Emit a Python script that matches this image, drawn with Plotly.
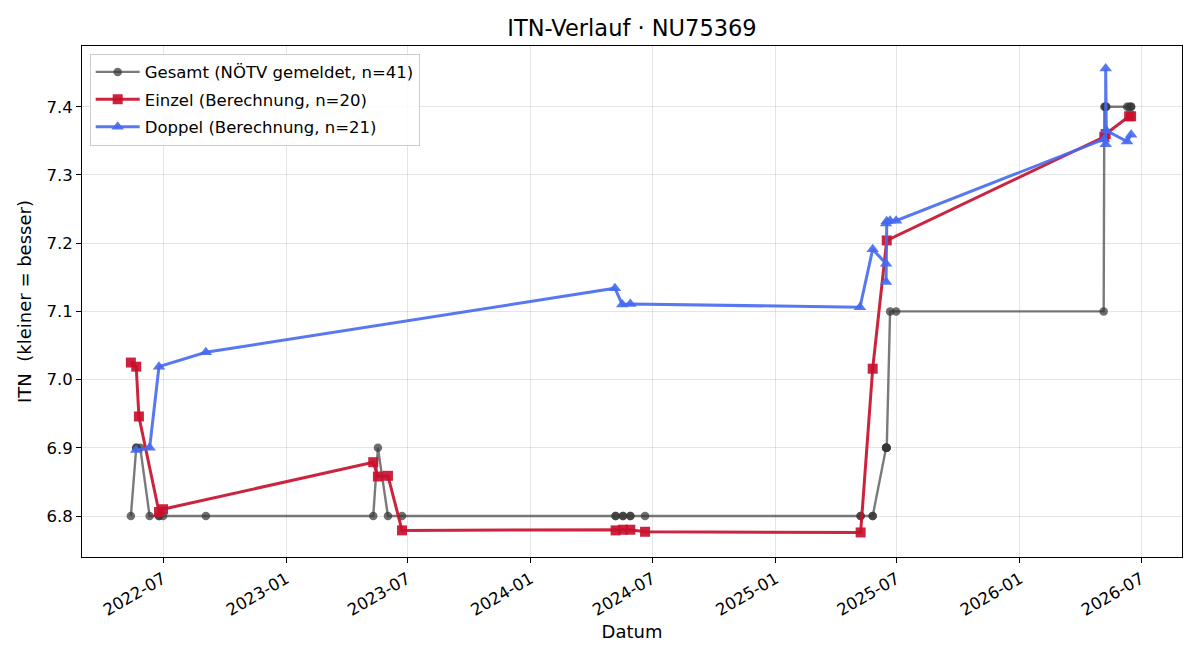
import plotly.graph_objects as go

# ---- Data ----
gesamt_dates = [
    "2022-05-14", "2022-05-22", "2022-05-22", "2022-05-28", "2022-06-11", "2022-06-25", "2022-06-25",
    "2022-07-01", "2022-09-03",
    "2023-05-11", "2023-05-18", "2023-06-02", "2023-06-23",
    "2024-05-07", "2024-05-07", "2024-05-18", "2024-05-18", "2024-05-29", "2024-05-29", "2024-06-20",
    "2025-05-08", "2025-05-08", "2025-05-26", "2025-05-26", "2025-06-15", "2025-06-15", "2025-06-15",
    "2025-06-16", "2025-06-16", "2025-06-21", "2025-06-30",
    "2026-05-06", "2026-05-07", "2026-05-09", "2026-05-09", "2026-05-09", "2026-05-10",
    "2026-06-10", "2026-06-13", "2026-06-16", "2026-06-16",
]
gesamt_values = [
    6.8, 6.9, 6.9, 6.9, 6.8, 6.8, 6.8,
    6.8, 6.8,
    6.8, 6.9, 6.8, 6.8,
    6.8, 6.8, 6.8, 6.8, 6.8, 6.8, 6.8,
    6.8, 6.8, 6.8, 6.8, 6.9, 6.9, 6.9,
    6.9, 6.9, 7.1, 7.1,
    7.1, 7.4, 7.4, 7.4, 7.4, 7.4,
    7.4, 7.4, 7.4, 7.4,
]

einzel_dates = [
    "2022-05-14", "2022-05-22", "2022-05-26", "2022-06-25", "2022-07-01",
    "2023-05-11", "2023-05-18", "2023-06-02", "2023-06-23",
    "2024-05-07", "2024-05-18", "2024-05-29", "2024-06-20",
    "2025-05-08", "2025-05-26", "2025-06-16",
    "2026-05-07", "2026-05-09", "2026-06-13", "2026-06-16",
]
einzel_values = [
    7.025, 7.019, 6.946, 6.806, 6.810,
    6.879, 6.858, 6.859, 6.779,
    6.779, 6.780, 6.780, 6.777,
    6.776, 7.016, 7.204,
    7.356, 7.360, 7.386, 7.386,
]

doppel_dates = [
    "2022-05-22", "2022-06-11", "2022-06-25", "2022-09-03",
    "2024-05-06", "2024-05-17", "2024-05-29",
    "2025-05-07", "2025-05-26", "2025-06-15", "2025-06-15", "2025-06-15", "2025-06-16",
    "2025-06-21", "2025-06-30",
    "2026-05-06", "2026-05-09", "2026-05-09", "2026-05-10", "2026-06-10", "2026-06-16",
]
doppel_values = [
    6.897, 6.900, 7.019, 7.040,
    7.134, 7.110, 7.111,
    7.106, 7.191, 7.170, 7.143, 7.229, 7.232,
    7.233, 7.233,
    7.352, 7.345, 7.456, 7.365, 7.349, 7.359,
]

y_ticks = [6.8, 6.9, 7.0, 7.1, 7.2, 7.3, 7.4]

FONT = "DejaVu Sans"

fig = go.Figure()
fig.add_trace(go.Scatter(
    x=gesamt_dates, y=gesamt_values, mode="lines+markers",
    name="Gesamt (NÖTV gemeldet, n=41)", legendgroup="g",
    line=dict(color="rgba(70,70,70,0.72)", width=2.4),
    marker=dict(symbol="circle", size=8.5, color="rgba(55,55,55,0.72)"),
))
fig.add_trace(go.Scatter(
    x=einzel_dates, y=einzel_values, mode="lines+markers",
    name="Einzel (Berechnung, n=20)", legendgroup="e",
    line=dict(color="rgba(200,16,46,0.92)", width=3),
    marker=dict(symbol="square", size=10, color="rgba(200,16,46,0.92)"),
))
fig.add_trace(go.Scatter(
    x=doppel_dates, y=doppel_values, mode="lines+markers",
    name="Doppel (Berechnung, n=21)", legendgroup="d",
    line=dict(color="rgba(70,105,240,0.9)", width=3),
    marker=dict(symbol="triangle-up", size=11, color="rgba(70,105,240,0.9)"),
))

fig.update_layout(
    width=1200, height=660,
    margin=dict(l=82, r=18, t=46, b=103),
    paper_bgcolor="white", plot_bgcolor="white",
    font=dict(family=FONT, size=16, color="black"),
    title=dict(text="ITN-Verlauf · NU75369", x=0.5, xanchor="center", xref="paper",
               y=0.957, yanchor="middle", font=dict(size=22.5, family=FONT)),
    legend=dict(x=0.007, y=0.985, xanchor="left", yanchor="top",
                bgcolor="rgba(255,255,255,0.85)", bordercolor="#cccccc", borderwidth=1,
                font=dict(size=16.5, family=FONT), tracegroupgap=3, itemwidth=44),
    showlegend=True,
)

fig.update_xaxes(
    type="date", range=["2022-03-02", "2026-08-31"],
    tick0="2022-01-01", dtick="M6", tickformat="%Y-%m", tickangle=-30,
    ticks="outside", ticklen=5, tickcolor="black",
    showgrid=True, gridcolor="rgba(0,0,0,0.1)", gridwidth=1,
    showline=True, linecolor="black", linewidth=1, mirror=True,
    zeroline=False,
    title=dict(text="Datum", font=dict(size=18, family=FONT), standoff=6),
    tickfont=dict(size=16.5, family=FONT),
)
fig.update_yaxes(
    range=[6.740, 7.489], tickvals=y_ticks, ticktext=[f"{v:.1f}" for v in y_ticks],
    ticks="outside", ticklen=5, tickcolor="black",
    showgrid=True, gridcolor="rgba(0,0,0,0.1)", gridwidth=1,
    showline=True, linecolor="black", linewidth=1, mirror=True,
    zeroline=False,
    title=dict(text="ITN\u00a0 (kleiner = besser)", font=dict(size=18, family=FONT), standoff=10),
    tickfont=dict(size=16.5, family=FONT),
)

fig.write_html("out.html")
